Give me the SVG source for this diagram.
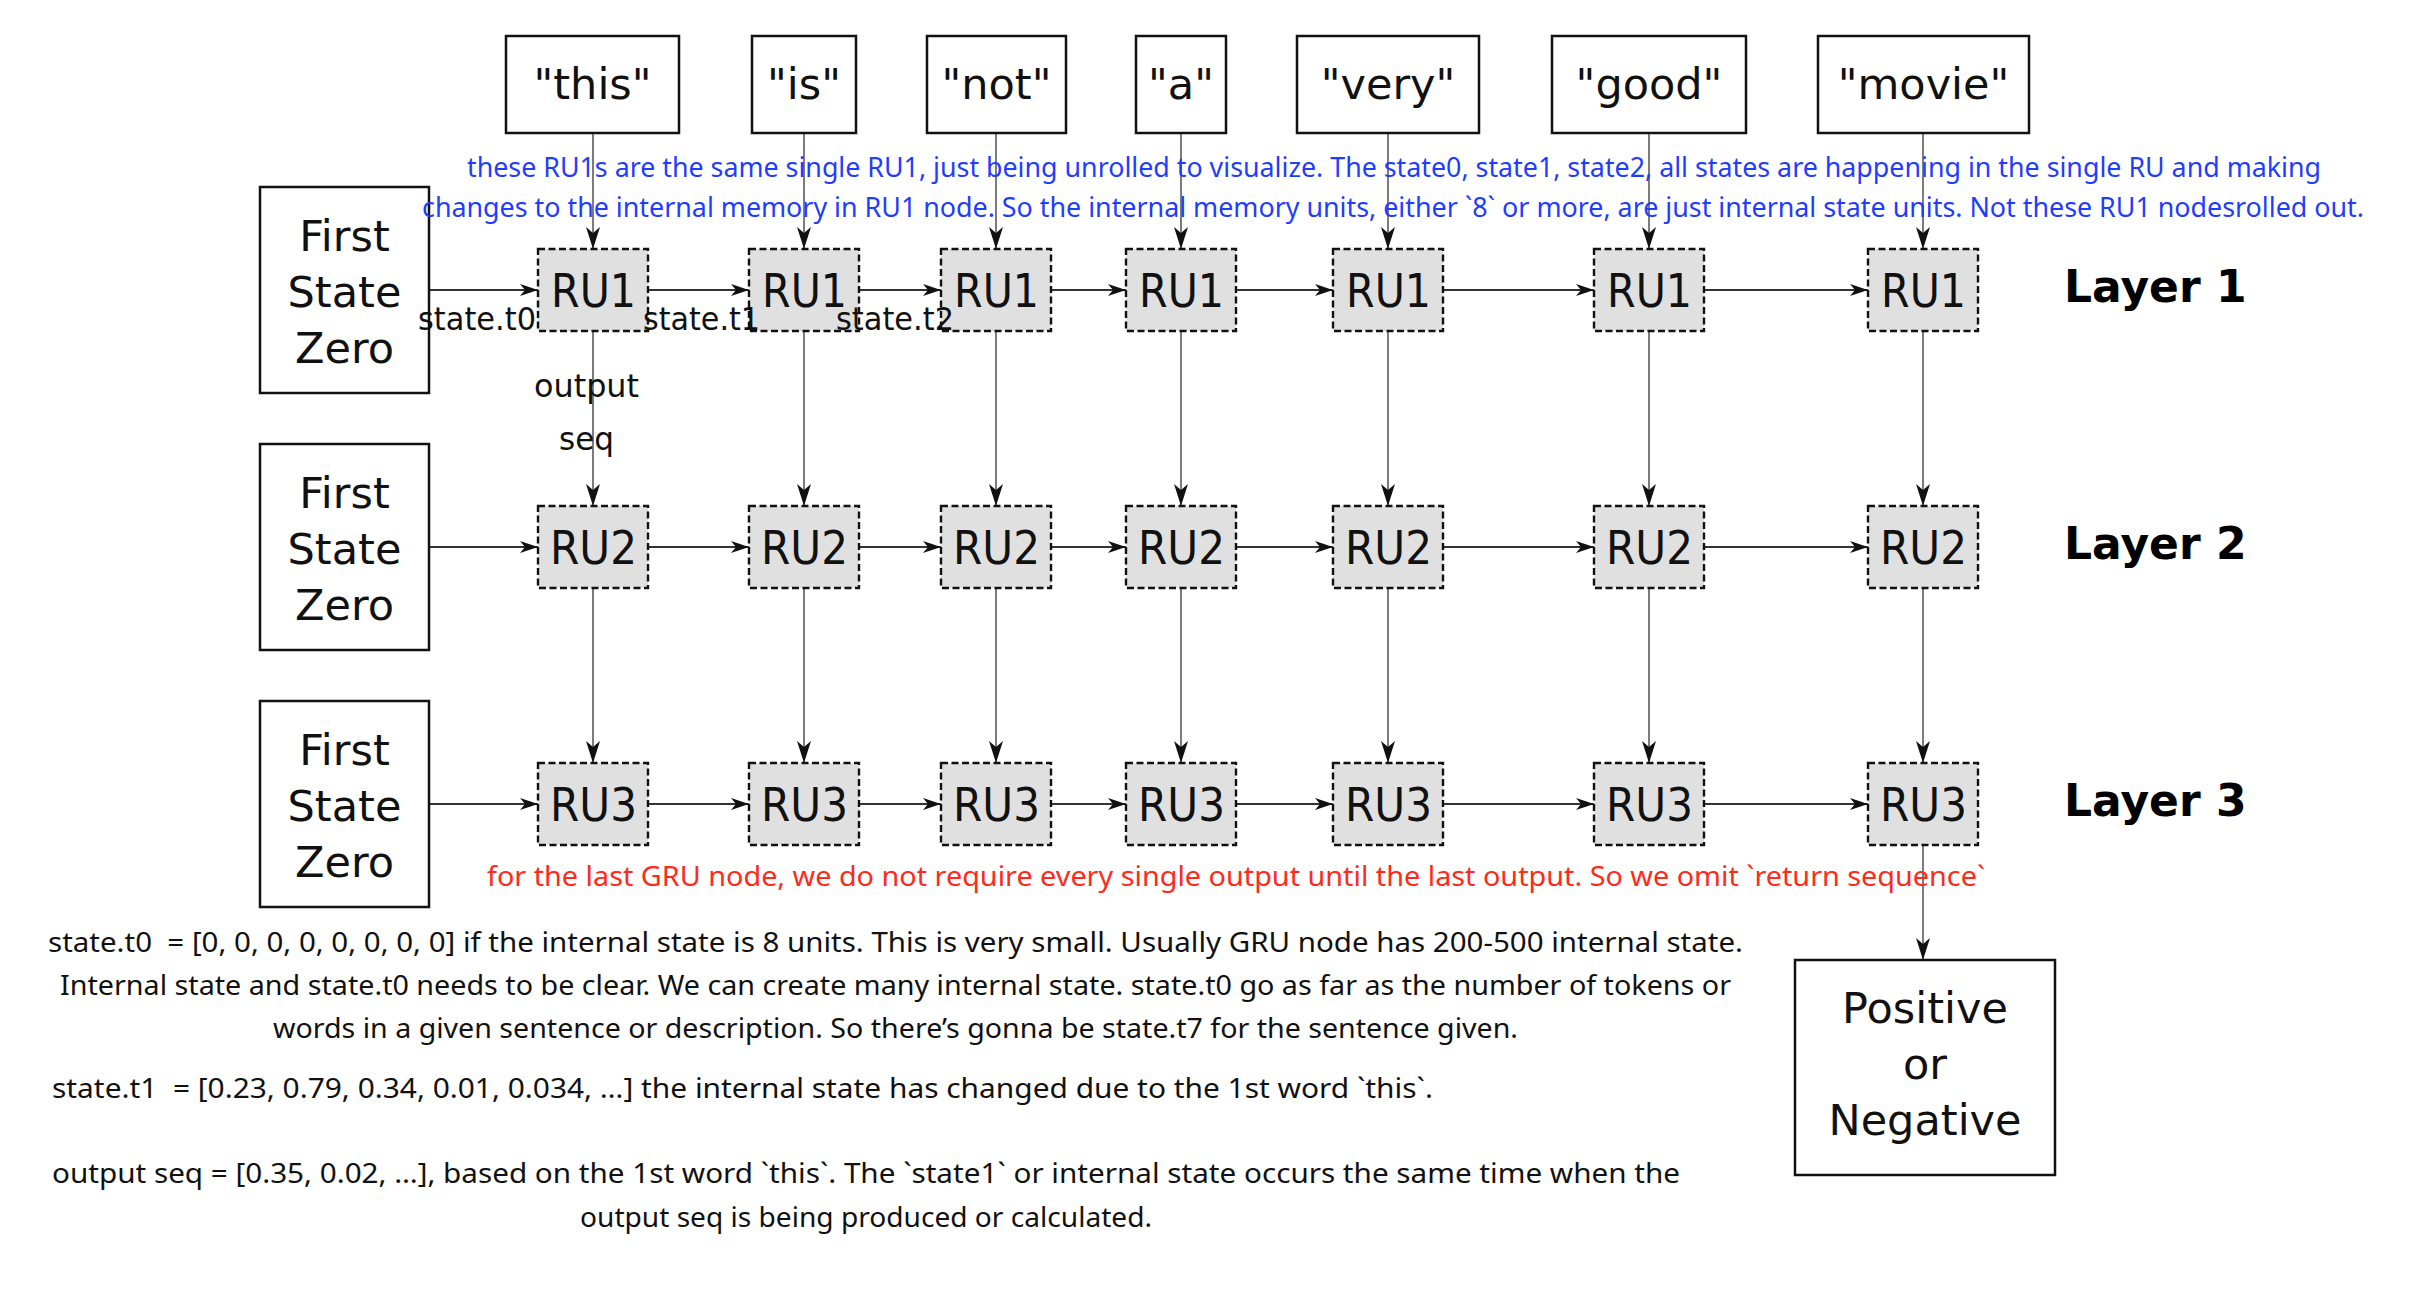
<svg xmlns="http://www.w3.org/2000/svg" width="2426" height="1310" viewBox="0 0 2426 1310">
<style>
.box{fill:#fff;stroke:#111;stroke-width:2.5}
.ru{fill:#e0e0e0;stroke:#111;stroke-width:2.4;stroke-dasharray:7,3.5}
.lbl{font-family:"DejaVu Sans",sans-serif;font-size:43px;fill:#111;text-anchor:middle}
.rut{font-family:"DejaVu Sans",sans-serif;font-size:46px;fill:#111}
.lay{font-family:"DejaVu Sans",sans-serif;font-size:44px;font-weight:bold;fill:#000}
.sm{font-family:"DejaVu Sans",sans-serif;font-size:32px;fill:#111}
.blue{font-family:"Noto Sans",sans-serif;font-size:27px;fill:#1f3cff}
.red{font-family:"Noto Sans",sans-serif;font-size:27px;fill:#ff2a1a}
.note{font-family:"Noto Sans",sans-serif;font-size:27px;fill:#111}
.h{stroke:#333;stroke-width:1.8;fill:none;marker-end:url(#ahh)}
.v{stroke:#444;stroke-width:1.4;fill:none;marker-end:url(#ahv)}
</style>
<defs>
<marker id="ahh" markerUnits="userSpaceOnUse" markerWidth="20" markerHeight="14" refX="18" refY="6" orient="auto">
<path d="M0,0 L18,6 L0,12 L5,6 z" fill="#111"/>
</marker>
<marker id="ahv" markerUnits="userSpaceOnUse" markerWidth="24" markerHeight="16" refX="22" refY="7" orient="auto">
<path d="M0,0 L22,7 L0,14 L6,7 z" fill="#111"/>
</marker>
</defs>
<rect width="2426" height="1310" fill="#fff"/>

<g id="connectors">
<line class="v" x1="593" y1="133" x2="593" y2="249"/>
<line class="v" x1="804" y1="133" x2="804" y2="249"/>
<line class="v" x1="996" y1="133" x2="996" y2="249"/>
<line class="v" x1="1181" y1="133" x2="1181" y2="249"/>
<line class="v" x1="1388" y1="133" x2="1388" y2="249"/>
<line class="v" x1="1649" y1="133" x2="1649" y2="249"/>
<line class="v" x1="1923" y1="133" x2="1923" y2="249"/>
<line class="v" x1="593" y1="331" x2="593" y2="506"/>
<line class="v" x1="804" y1="331" x2="804" y2="506"/>
<line class="v" x1="996" y1="331" x2="996" y2="506"/>
<line class="v" x1="1181" y1="331" x2="1181" y2="506"/>
<line class="v" x1="1388" y1="331" x2="1388" y2="506"/>
<line class="v" x1="1649" y1="331" x2="1649" y2="506"/>
<line class="v" x1="1923" y1="331" x2="1923" y2="506"/>
<line class="v" x1="593" y1="588" x2="593" y2="763"/>
<line class="v" x1="804" y1="588" x2="804" y2="763"/>
<line class="v" x1="996" y1="588" x2="996" y2="763"/>
<line class="v" x1="1181" y1="588" x2="1181" y2="763"/>
<line class="v" x1="1388" y1="588" x2="1388" y2="763"/>
<line class="v" x1="1649" y1="588" x2="1649" y2="763"/>
<line class="v" x1="1923" y1="588" x2="1923" y2="763"/>
<line class="v" x1="1923" y1="845" x2="1923" y2="960"/>
<line class="h" x1="429" y1="290" x2="538" y2="290"/>
<line class="h" x1="648" y1="290" x2="749" y2="290"/>
<line class="h" x1="859" y1="290" x2="941" y2="290"/>
<line class="h" x1="1051" y1="290" x2="1126" y2="290"/>
<line class="h" x1="1236" y1="290" x2="1333" y2="290"/>
<line class="h" x1="1443" y1="290" x2="1594" y2="290"/>
<line class="h" x1="1704" y1="290" x2="1868" y2="290"/>
<line class="h" x1="429" y1="547" x2="538" y2="547"/>
<line class="h" x1="648" y1="547" x2="749" y2="547"/>
<line class="h" x1="859" y1="547" x2="941" y2="547"/>
<line class="h" x1="1051" y1="547" x2="1126" y2="547"/>
<line class="h" x1="1236" y1="547" x2="1333" y2="547"/>
<line class="h" x1="1443" y1="547" x2="1594" y2="547"/>
<line class="h" x1="1704" y1="547" x2="1868" y2="547"/>
<line class="h" x1="429" y1="804" x2="538" y2="804"/>
<line class="h" x1="648" y1="804" x2="749" y2="804"/>
<line class="h" x1="859" y1="804" x2="941" y2="804"/>
<line class="h" x1="1051" y1="804" x2="1126" y2="804"/>
<line class="h" x1="1236" y1="804" x2="1333" y2="804"/>
<line class="h" x1="1443" y1="804" x2="1594" y2="804"/>
<line class="h" x1="1704" y1="804" x2="1868" y2="804"/>
</g>

<g id="w-this"><rect class="box" x="506" y="36" width="173" height="97"/><text class="lbl" x="592.5" y="99">"this"</text></g>
<g id="w-is"><rect class="box" x="752" y="36" width="104" height="97"/><text class="lbl" x="804" y="99">"is"</text></g>
<g id="w-not"><rect class="box" x="927" y="36" width="139" height="97"/><text class="lbl" x="996.5" y="99">"not"</text></g>
<g id="w-a"><rect class="box" x="1136" y="36" width="90" height="97"/><text class="lbl" x="1181" y="99">"a"</text></g>
<g id="w-very"><rect class="box" x="1297" y="36" width="182" height="97"/><text class="lbl" x="1388" y="99">"very"</text></g>
<g id="w-good"><rect class="box" x="1552" y="36" width="194" height="97"/><text class="lbl" x="1649" y="99">"good"</text></g>
<g id="w-movie"><rect class="box" x="1818" y="36" width="211" height="97"/><text class="lbl" x="1923.5" y="99">"movie"</text></g>

<g id="fsz1"><rect class="box" x="260" y="187" width="169" height="206"/><text class="lbl" x="344.5"><tspan x="344.5" y="251">First</tspan><tspan x="344.5" y="307">State</tspan><tspan x="344.5" y="363">Zero</tspan></text></g>
<g id="fsz2"><rect class="box" x="260" y="444" width="169" height="206"/><text class="lbl" x="344.5"><tspan x="344.5" y="508">First</tspan><tspan x="344.5" y="564">State</tspan><tspan x="344.5" y="620">Zero</tspan></text></g>
<g id="fsz3"><rect class="box" x="260" y="701" width="169" height="206"/><text class="lbl" x="344.5"><tspan x="344.5" y="765">First</tspan><tspan x="344.5" y="821">State</tspan><tspan x="344.5" y="877">Zero</tspan></text></g>

<g id="ru1-1"><rect class="ru" x="538" y="249" width="110" height="82"/><text class="rut" x="551" y="307" textLength="85" lengthAdjust="spacingAndGlyphs">RU1</text></g>
<g id="ru1-2"><rect class="ru" x="749" y="249" width="110" height="82"/><text class="rut" x="762" y="307" textLength="85" lengthAdjust="spacingAndGlyphs">RU1</text></g>
<g id="ru1-3"><rect class="ru" x="941" y="249" width="110" height="82"/><text class="rut" x="954" y="307" textLength="85" lengthAdjust="spacingAndGlyphs">RU1</text></g>
<g id="ru1-4"><rect class="ru" x="1126" y="249" width="110" height="82"/><text class="rut" x="1139" y="307" textLength="85" lengthAdjust="spacingAndGlyphs">RU1</text></g>
<g id="ru1-5"><rect class="ru" x="1333" y="249" width="110" height="82"/><text class="rut" x="1346" y="307" textLength="85" lengthAdjust="spacingAndGlyphs">RU1</text></g>
<g id="ru1-6"><rect class="ru" x="1594" y="249" width="110" height="82"/><text class="rut" x="1607" y="307" textLength="85" lengthAdjust="spacingAndGlyphs">RU1</text></g>
<g id="ru1-7"><rect class="ru" x="1868" y="249" width="110" height="82"/><text class="rut" x="1881" y="307" textLength="85" lengthAdjust="spacingAndGlyphs">RU1</text></g>

<g id="ru2-1"><rect class="ru" x="538" y="506" width="110" height="82"/><text class="rut" x="550" y="564" textLength="87" lengthAdjust="spacingAndGlyphs">RU2</text></g>
<g id="ru2-2"><rect class="ru" x="749" y="506" width="110" height="82"/><text class="rut" x="761" y="564" textLength="87" lengthAdjust="spacingAndGlyphs">RU2</text></g>
<g id="ru2-3"><rect class="ru" x="941" y="506" width="110" height="82"/><text class="rut" x="953" y="564" textLength="87" lengthAdjust="spacingAndGlyphs">RU2</text></g>
<g id="ru2-4"><rect class="ru" x="1126" y="506" width="110" height="82"/><text class="rut" x="1138" y="564" textLength="87" lengthAdjust="spacingAndGlyphs">RU2</text></g>
<g id="ru2-5"><rect class="ru" x="1333" y="506" width="110" height="82"/><text class="rut" x="1345" y="564" textLength="87" lengthAdjust="spacingAndGlyphs">RU2</text></g>
<g id="ru2-6"><rect class="ru" x="1594" y="506" width="110" height="82"/><text class="rut" x="1606" y="564" textLength="87" lengthAdjust="spacingAndGlyphs">RU2</text></g>
<g id="ru2-7"><rect class="ru" x="1868" y="506" width="110" height="82"/><text class="rut" x="1880" y="564" textLength="87" lengthAdjust="spacingAndGlyphs">RU2</text></g>

<g id="ru3-1"><rect class="ru" x="538" y="763" width="110" height="82"/><text class="rut" x="550" y="821" textLength="87" lengthAdjust="spacingAndGlyphs">RU3</text></g>
<g id="ru3-2"><rect class="ru" x="749" y="763" width="110" height="82"/><text class="rut" x="761" y="821" textLength="87" lengthAdjust="spacingAndGlyphs">RU3</text></g>
<g id="ru3-3"><rect class="ru" x="941" y="763" width="110" height="82"/><text class="rut" x="953" y="821" textLength="87" lengthAdjust="spacingAndGlyphs">RU3</text></g>
<g id="ru3-4"><rect class="ru" x="1126" y="763" width="110" height="82"/><text class="rut" x="1138" y="821" textLength="87" lengthAdjust="spacingAndGlyphs">RU3</text></g>
<g id="ru3-5"><rect class="ru" x="1333" y="763" width="110" height="82"/><text class="rut" x="1345" y="821" textLength="87" lengthAdjust="spacingAndGlyphs">RU3</text></g>
<g id="ru3-6"><rect class="ru" x="1594" y="763" width="110" height="82"/><text class="rut" x="1606" y="821" textLength="87" lengthAdjust="spacingAndGlyphs">RU3</text></g>
<g id="ru3-7"><rect class="ru" x="1868" y="763" width="110" height="82"/><text class="rut" x="1880" y="821" textLength="87" lengthAdjust="spacingAndGlyphs">RU3</text></g>

<g id="result"><rect class="box" x="1795" y="960" width="260" height="215"/><text class="lbl" font-size="44" x="1925"><tspan x="1925" y="1023">Positive</tspan><tspan x="1925" y="1079">or</tspan><tspan x="1925" y="1135">Negative</tspan></text></g>

<g id="layers">
<text class="lay" x="2064" y="302">Layer 1</text>
<text class="lay" x="2064" y="559">Layer 2</text>
<text class="lay" x="2064" y="816">Layer 3</text>
</g>

<g id="labels">
<text class="sm" x="418" y="330" textLength="118" lengthAdjust="spacingAndGlyphs">state.t0</text>
<text class="sm" x="643" y="330" textLength="117" lengthAdjust="spacingAndGlyphs">state.t1</text>
<text class="sm" x="836" y="330" textLength="118" lengthAdjust="spacingAndGlyphs">state.t2</text>
<text class="sm" x="534" y="397" textLength="105" lengthAdjust="spacingAndGlyphs">output</text>
<text class="sm" x="559" y="450" textLength="55" lengthAdjust="spacingAndGlyphs">seq</text>
</g>

<g id="blue-note">
<text class="blue" x="467" y="177" textLength="1854" lengthAdjust="spacingAndGlyphs">these RU1s are the same single RU1, just being unrolled to visualize. The state0, state1, state2, all states are happening in the single RU and making</text>
<text class="blue" x="422" y="217" textLength="1942" lengthAdjust="spacingAndGlyphs">changes to the internal memory in RU1 node. So the internal memory units, either `8` or more, are just internal state units. Not these RU1 nodesrolled out.</text>
</g>

<g id="red-note">
<text class="red" x="487" y="886" textLength="1498" lengthAdjust="spacingAndGlyphs">for the last GRU node, we do not require every single output until the last output. So we omit `return sequence`</text>
</g>

<g id="notes">
<text class="note" xml:space="preserve" x="48" y="952" textLength="1695" lengthAdjust="spacingAndGlyphs">state.t0  = [0, 0, 0, 0, 0, 0, 0, 0] if the internal state is 8 units. This is very small. Usually GRU node has 200-500 internal state.</text>
<text class="note" x="60" y="995" textLength="1671" lengthAdjust="spacingAndGlyphs">Internal state and state.t0 needs to be clear. We can create many internal state. state.t0 go as far as the number of tokens or</text>
<text class="note" x="273" y="1038" textLength="1245" lengthAdjust="spacingAndGlyphs">words in a given sentence or description. So there’s gonna be state.t7 for the sentence given.</text>
<text class="note" xml:space="preserve" x="52" y="1098" textLength="1381" lengthAdjust="spacingAndGlyphs">state.t1  = [0.23, 0.79, 0.34, 0.01, 0.034, …] the internal state has changed due to the 1st word `this`.</text>
<text class="note" x="52" y="1183" textLength="1628" lengthAdjust="spacingAndGlyphs">output seq = [0.35, 0.02, …], based on the 1st word `this`. The `state1` or internal state occurs the same time when the</text>
<text class="note" x="580" y="1227" textLength="572" lengthAdjust="spacingAndGlyphs">output seq is being produced or calculated.</text>
</g>
</svg>
